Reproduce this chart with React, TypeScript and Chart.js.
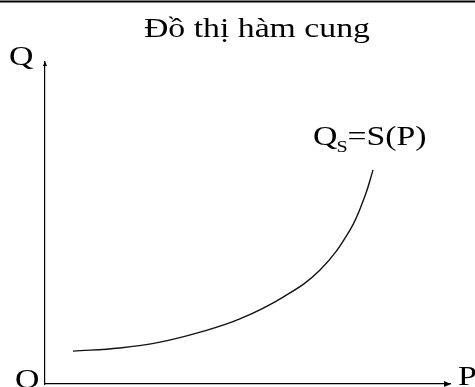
import React, { useEffect, useRef } from "react";
import { Chart, registerables } from "chart.js";

Chart.register(...registerables);

// Supply curve Qs = S(P), sampled points (price on x, quantity on y)
const price = [6.9, 18.5, 28.4, 38.3, 48.1, 58.8, 67.9, 75.3, 79.0, 81.0];
const quantity = [10.2, 11.2, 13.0, 16.1, 20.2, 27.0, 35.4, 47.8, 58.4, 66.5];

const titleText = "Đồ thị hàm cung";
const yAxisLabel = "Q";
const xAxisLabel = "P";
const originLabel = "O";
const curveLabel = { main: "Q", sub: "S", rest: "=S(P)" };

const FONT = '"Liberation Serif", "Times New Roman", serif';
const SCALE_X = 1.25;

function drawStretched(ctx: CanvasRenderingContext2D, text: string, x: number, y: number, size: number) {
  ctx.save();
  ctx.font = `${size}px ${FONT}`;
  ctx.textBaseline = "alphabetic";
  ctx.textAlign = "left";
  ctx.translate(x, y);
  ctx.scale(SCALE_X, 1);
  ctx.fillText(text, 0, 0);
  const w = ctx.measureText(text).width * SCALE_X;
  ctx.restore();
  return w;
}

const decorPlugin = {
  id: "supplyDecor",
  afterDraw(chart: any) {
    const { ctx, chartArea, scales } = chart;
    const { left, right, top, bottom } = chartArea;
    ctx.save();
    ctx.fillStyle = "#000";
    ctx.strokeStyle = "#000";

    // page rule along the top edge
    ctx.lineWidth = 2;
    ctx.beginPath();
    ctx.moveTo(0, 1.5);
    ctx.lineTo(chart.width, 1.5);
    ctx.stroke();

    // arrowheads on both axes
    ctx.beginPath();
    ctx.moveTo(right + 1, bottom);
    ctx.lineTo(right - 6, bottom - 3);
    ctx.lineTo(right - 6, bottom + 3);
    ctx.closePath();
    ctx.fill();
    ctx.beginPath();
    ctx.moveTo(left, top - 1);
    ctx.lineTo(left - 2, top + 4);
    ctx.lineTo(left + 2, top + 4);
    ctx.closePath();
    ctx.fill();

    // title
    drawStretched(ctx, titleText, left + 99, 37, 27);

    // axis labels
    drawStretched(ctx, yAxisLabel, 9, top + 3, 27);
    drawStretched(ctx, originLabel, 15, bottom + 4, 27);
    drawStretched(ctx, xAxisLabel, right + 8, bottom + 1, 27);

    // curve label above the curve's upper end
    const lastX = scales.x.getPixelForValue(price[price.length - 1]);
    const lastY = scales.y.getPixelForValue(quantity[quantity.length - 1]);
    let x = lastX - 60;
    const base = lastY - 25;
    x += drawStretched(ctx, curveLabel.main, x, base, 27);
    x += drawStretched(ctx, curveLabel.sub, x - 1, base + 7, 16);
    drawStretched(ctx, curveLabel.rest, x - 1, base, 27);

    ctx.restore();
  },
};

export default function App() {
  const canvasRef = useRef<HTMLCanvasElement | null>(null);

  useEffect(() => {
    document.body.style.margin = "0";
    const canvas = canvasRef.current;
    if (!canvas) return;
    const chart = new Chart(canvas, {
      type: "scatter",
      data: {
        datasets: [
          {
            data: price.map((p, i) => ({ x: p, y: quantity[i] })),
            showLine: true,
            borderColor: "#111",
            borderWidth: 1.4,
            pointRadius: 0,
            tension: 0.4,
          },
        ],
      },
      options: {
        animation: false,
        responsive: false,
        maintainAspectRatio: false,
        layout: { padding: { left: 45, right: 25, top: 62, bottom: 3 } },
        plugins: { legend: { display: false }, tooltip: { enabled: false }, title: { display: false } },
        scales: {
          x: {
            type: "linear",
            min: 0,
            max: 100,
            grid: { display: false, drawTicks: false },
            ticks: { display: false },
            border: { display: true, color: "#000", width: 1.2 },
          },
          y: {
            type: "linear",
            min: 0,
            max: 100,
            grid: { display: false, drawTicks: false },
            ticks: { display: false },
            border: { display: true, color: "#000", width: 1.2 },
          },
        },
      },
      plugins: [decorPlugin],
    });
    return () => chart.destroy();
  }, []);

  return (
    <div style={{ width: 475, height: 387, background: "#fff" }}>
      <canvas ref={canvasRef} width={475} height={387} style={{ display: "block" }} />
    </div>
  );
}
